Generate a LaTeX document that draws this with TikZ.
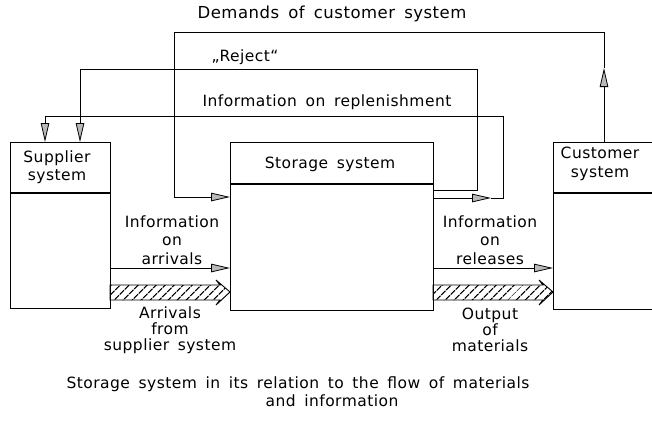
\documentclass[tikz,border=0pt]{standalone}
\usepackage{fontspec}
\setmainfont{DejaVu Sans}[LetterSpace=3,WordSpace=1.6]
\usetikzlibrary{arrows.meta,patterns.meta,calc}
\begin{document}
\begin{tikzpicture}[x=1pt,y=-1pt,
  font=\fontsize{15.5}{18.5}\selectfont,
  box/.style={draw, line width=1.3pt, inner sep=0pt, anchor=north west},
  divider/.style={line width=1.3pt},
  conn/.style={line width=0.75pt},
  tip/.style={-{Triangle[length=19pt,width=8.5pt,fill=gray!55,line width=0.8pt]}},
  lbl/.style={align=center, inner sep=0pt},
  hatch/.style={draw, line width=0.9pt, line join=miter,
    pattern={Lines[angle=45,distance=6.5pt,line width=1.2pt]}}]
\clip (0,0) rectangle (652,429);
\useasboundingbox (0,0) rectangle (652,429);
% boxes
\node[box, minimum width=100, minimum height=166] (sup) at (10,142) {};
\node[box, minimum width=203, minimum height=168] (stor) at (230,142) {};
\node[box, minimum width=120, minimum height=167] (cust) at (553,142) {};
\draw[divider] (10,193) -- (110,193);
\draw[divider] (230,184) -- (433,184);
\draw[divider] (553,193) -- (660,193);
% box titles
\node[lbl] (supt) at (57,167) {Supplier\\system};
\node[lbl] (stort) at (330,164) {Storage system};
\node[lbl] (custt) at (600,164) {Customer\\system};
% coordinates
\coordinate (d0) at (604,142);
\coordinate (d1) at (604,68);
\coordinate (d2) at (604,32);
\coordinate (d3) at (174,32);
\coordinate (d4) at (174,197);
\coordinate (d5) at (230,197);
\coordinate (r0) at (433,190);
\coordinate (r1) at (477,190);
\coordinate (r2) at (477,69);
\coordinate (r3) at (80,69);
\coordinate (r4) at (80,142);
\coordinate (p0) at (433,198);
\coordinate (p1) at (491,198);
\coordinate (p2) at (503,198);
\coordinate (p3) at (503,116);
\coordinate (p4) at (45,116);
\coordinate (p5) at (45,142);
% demands of customer system
\draw[conn,tip] (d0) -- (d1);
\draw[conn,tip] (d1) -- (d2) -- (d3) -- (d4) -- (d5);
% reject
\draw[conn,tip] (r0) -- (r1) -- (r2) -- (r3) -- (r4);
% replenishment
\draw[conn,tip] (p0) -- (p1);
\draw[conn,tip] (p1) -- (p2) -- (p3) -- (p4) -- (p5);
% information arrows
\coordinate (ia0) at (110,268);
\coordinate (ia1) at (230,268);
\coordinate (ir0) at (433,268);
\coordinate (ir1) at (553,268);
\draw[conn,tip] (ia0) -- (ia1);
\draw[conn,tip] (ir0) -- (ir1);
% hatched material arrows
\draw[hatch] (110,285) -- (220,285) -- (216,280) -- (230,292) -- (216,305) -- (220,300) -- (110,300) -- cycle;
\draw[hatch] (433,285) -- (543,285) -- (539,280) -- (553,292) -- (539,305) -- (543,300) -- (433,300) -- cycle;
% labels
\node[lbl, font=\fontsize{16.5}{18.5}\selectfont] (ldem) at (332,14) {Demands of customer system};
\node[lbl] (lrej) at (245,57) {„Reject“};
\node[lbl] (lrep) at (327,102) {Information on replenishment};
\node[lbl] (lia) at (172,240) {Information\\on\\arrivals};
\node[lbl] (lir) at (490,240) {Information\\on\\releases};
\node[lbl, font=\fontsize{15.5}{16}\selectfont] (lar) at (170,330) {Arrivals\\from\\supplier system};
\node[lbl, font=\fontsize{15.5}{16}\selectfont] (lout) at (490,330) {Output\\of\\materials};
\node[lbl] (cap1) at (298,384) {Storage system in its relation to the flow of materials};
\node[lbl] (cap2) at (332,401) {and information};
\end{tikzpicture}
\end{document}
